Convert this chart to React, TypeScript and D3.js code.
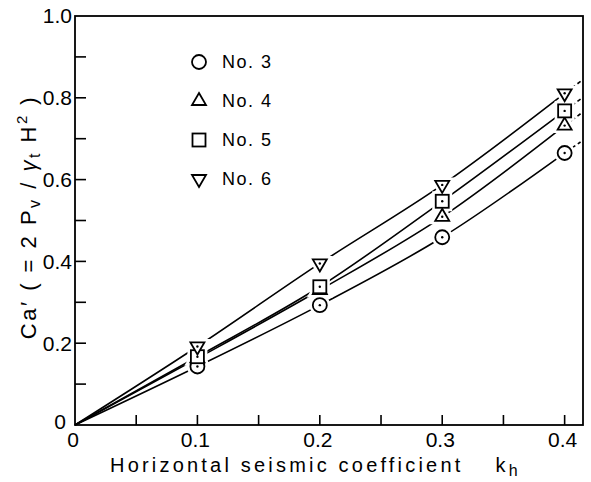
import React from "react";
import * as d3 from "d3";

// horizontal seismic coefficient at which tests were run
const kh = [0.1, 0.2, 0.3, 0.4];

// Ca' values
const no3 = [0.143, 0.293, 0.459, 0.665];
const no4 = [0.163, 0.33, 0.509, 0.732];
const no5 = [0.167, 0.338, 0.547, 0.768];
const no6 = [0.192, 0.395, 0.587, 0.811];

// where the dashed continuation of each curve stops
const khEnd = 0.413;
const endValues = [0.692, 0.761, 0.797, 0.84];

const seriesNames = ["No. 3", "No. 4", "No. 5", "No. 6"];
const seriesMarkers = ["circle", "triUp", "square", "triDown"];
const seriesValues = [no3, no4, no5, no6];

const xTickLabels = [0, 0.1, 0.2, 0.3, 0.4];
const yTickLabels = [0, 0.2, 0.4, 0.6, 0.8, 1.0];

const width = 591;
const height = 482;
const font = "'Liberation Sans', Arial, sans-serif";

const x = d3.scaleLinear().domain([0, 0.415]).range([75, 583]);
const y = d3.scaleLinear().domain([0, 1]).range([425, 16]);

const line = d3
  .line<[number, number]>()
  .x((d) => x(d[0]))
  .y((d) => y(d[1]))
  .curve(d3.curveMonotoneX);

function Marker({ kind, cx, cy, dot, halo }) {
  const w = 14;
  const h = 12;
  const props = halo
    ? { fill: "white", stroke: "white", strokeWidth: 7 }
    : { fill: "white", stroke: "black", strokeWidth: 1.8 };
  let shape;
  if (kind === "circle") shape = <circle cx={cx} cy={cy} r={7} {...props} />;
  else if (kind === "square")
    shape = <rect x={cx - 6.5} y={cy - 6.5} width={13} height={13} {...props} />;
  else if (kind === "triUp")
    shape = (
      <path
        d={`M${cx},${cy - (2 * h) / 3}L${cx + w / 2},${cy + h / 3}L${cx - w / 2},${cy + h / 3}Z`}
        {...props}
      />
    );
  else
    shape = (
      <path
        d={`M${cx},${cy + (2 * h) / 3}L${cx + w / 2},${cy - h / 3}L${cx - w / 2},${cy - h / 3}Z`}
        {...props}
      />
    );
  return (
    <g>
      {shape}
      {dot && !halo && <circle cx={cx} cy={cy} r={1.2} fill="black" />}
    </g>
  );
}

export default function App() {
  const xTicks = d3.range(0.05, 0.41, 0.05);
  const yTicks = d3.range(0.1, 0.95, 0.1);

  return (
    <div style={{ position: "absolute", left: 0, top: 0 }}>
      <svg width={width} height={height} style={{ display: "block", background: "white" }}>
        {/* frame */}
        <rect
          x={x(0)}
          y={y(1)}
          width={x(0.415) - x(0)}
          height={y(0) - y(1)}
          fill="none"
          stroke="black"
          strokeWidth={1.8}
        />

        {/* ticks, pointing inward */}
        {xTicks.map((t) => (
          <line key={"xt" + t} x1={x(t)} x2={x(t)} y1={y(0)} y2={y(0) - 10} stroke="black" strokeWidth={1.6} />
        ))}
        {yTicks.map((t) => (
          <line key={"yt" + t} x1={x(0)} x2={x(0) + 11} y1={y(t)} y2={y(t)} stroke="black" strokeWidth={1.6} />
        ))}

        {/* tick labels */}
        {xTickLabels.map((t) => (
          <text key={"xl" + t} x={x(t) - 2} y={440} dy="0.35em" textAnchor="middle" fontFamily={font} fontSize={21}>
            {t === 0 ? "0" : t.toFixed(1)}
          </text>
        ))}
        {yTickLabels.map((t) => (
          <text key={"yl" + t} x={t === 0 ? 66 : 72} y={t === 0 ? y(t) - 3 : y(t)} dy="0.35em" textAnchor="end" fontFamily={font} fontSize={21}>
            {t === 0 ? "0" : t.toFixed(1)}
          </text>
        ))}

        {/* axis titles */}
        <text x={110} y={472} fontFamily={font} fontSize={20} letterSpacing={3.2}>
          Horizontal seismic coefficient
          <tspan dx={32}>k</tspan>
          <tspan dy={4} fontSize={16}>h</tspan>
        </text>
        <text
          transform="translate(36,217) rotate(-90)"
          textAnchor="middle"
          fontFamily={font}
          fontSize={22}
          letterSpacing={2.5}
        >
          Ca′ ( = 2 P<tspan dy={4} fontSize={16}>v</tspan>
          <tspan dy={-4}> / </tspan>
          <tspan fontStyle="italic">γ</tspan>
          <tspan dy={4} fontSize={16}>t</tspan>
          <tspan dy={-4}> H</tspan>
          <tspan dy={-9} fontSize={15}>2</tspan>
          <tspan dy={9}> )</tspan>
        </text>

        {/* curves */}
        {seriesValues.map((vals, i) => {
          const pts: [number, number][] = [[0, 0], ...kh.map((k, j) => [k, vals[j]] as [number, number])];
          const last = pts[pts.length - 1];
          return (
            <g key={"c" + i}>
              <path d={line(pts)} fill="none" stroke="black" strokeWidth={1.6} />
              <line
                x1={x(last[0])}
                y1={y(last[1])}
                x2={x(khEnd)}
                y2={y(endValues[i])}
                stroke="black"
                strokeWidth={1.6}
                strokeDasharray="5,3"
              />
            </g>
          );
        })}

        {/* marker halos cut gaps in the curves */}
        {seriesValues.map((vals, i) =>
          kh.map((k, j) => (
            <Marker key={`h${i}-${j}`} kind={seriesMarkers[i]} cx={x(k)} cy={y(vals[j])} dot={false} halo={true} />
          ))
        )}
        {seriesValues.map((vals, i) =>
          kh.map((k, j) => (
            <Marker key={`m${i}-${j}`} kind={seriesMarkers[i]} cx={x(k)} cy={y(vals[j])} dot={true} halo={false} />
          ))
        )}

        {/* legend */}
        {seriesNames.map((name, i) => (
          <g key={"lg" + i} transform={`translate(0, ${62 + i * 39})`}>
            <Marker kind={seriesMarkers[i]} cx={199} cy={0} dot={false} halo={false} />
            <text x={222} y={0} dy="0.35em" fontFamily={font} fontSize={18} letterSpacing={1.5}>
              {name}
            </text>
          </g>
        ))}
      </svg>
    </div>
  );
}
